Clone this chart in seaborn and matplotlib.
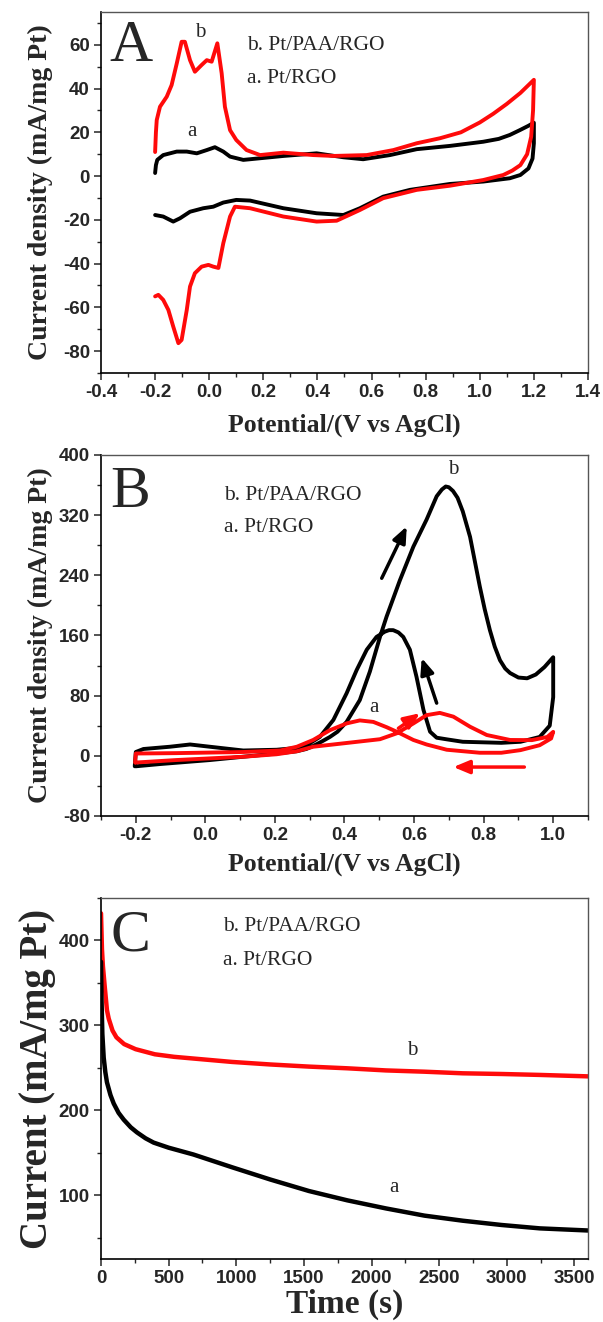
import seaborn as sns
import matplotlib.pyplot as plt
from matplotlib.ticker import MultipleLocator
import pandas as pd

# ---- panel A : CV in H2SO4 ----
a_red_x = [-0.2, -0.197, -0.194, -0.182, -0.157, -0.139, -0.12, -0.102, -0.09, -0.071, -0.053,
           -0.028, -0.009, 0.009, 0.03, 0.046, 0.058, 0.077, 0.1, 0.138, 0.188, 0.274, 0.385,
           0.459, 0.582, 0.681, 0.767, 0.853, 0.93, 1.0, 1.05, 1.1, 1.15, 1.2,
           1.197, 1.19, 1.175, 1.15, 1.12, 1.087, 1.013, 0.89, 0.767, 0.643, 0.557, 0.471, 0.397,
           0.274, 0.151, 0.095, 0.077, 0.052, 0.034, 0.015, -0.003, -0.028, -0.053, -0.071,
           -0.083, -0.102, -0.114, -0.133, -0.151, -0.17, -0.188, -0.2]
a_red_y = [11, 20, 25.6, 31.7, 36.3, 41.6, 51.5, 61.4, 61.4, 53, 47.7,
           50.8, 53, 52.3, 60.7, 47, 31.7, 21, 16.5, 11.9, 9.6, 10.7, 9.6,
           9.2, 9.6, 11.9, 15, 17.3, 20, 24.5, 28.5, 33, 38, 44,
           30, 18, 10, 5, 2.5, 0.5, -1.8, -4.4, -6.3, -10.1, -15.5, -20.4, -20.8,
           -18.5, -14.7, -14, -18.5, -30.7, -42, -41.4, -40.6, -41.4, -44.4, -50.5,
           -61.2, -74.9, -76.4, -68.8, -61.2, -56.6, -54.3, -55]
a_blk_x = [-0.2, -0.197, -0.192, -0.17, -0.12, -0.083, -0.046, -0.009, 0.021, 0.052, 0.077,
           0.126, 0.151, 0.274, 0.397, 0.496, 0.569, 0.668, 0.767, 0.89, 1.013, 1.07, 1.111,
           1.148, 1.18, 1.2,
           1.2, 1.195, 1.18, 1.15, 1.111, 1.013, 0.89, 0.742, 0.643, 0.557, 0.496, 0.397, 0.274,
           0.151, 0.1, 0.052, 0.015, -0.022, -0.071, -0.108, -0.133, -0.17, -0.2]
a_blk_y = [1.4, 5, 7.4, 9.6, 11.2, 11.2, 10.4, 11.9, 13.2, 11.2, 8.9,
           7.4, 7.7, 9.2, 10.4, 8.6, 7.7, 9.6, 12.3, 13.8, 15.7, 17, 18.8,
           21, 23, 24.4,
           15, 8, 3.5, 0.5, -1, -2.5, -3.6, -6.3, -9.4, -14.7, -17.8, -17, -14.7,
           -11.2, -10.9, -12.1, -14, -14.7, -16.3, -19.3, -20.8, -18.5, -17.8]

# ---- panel B : methanol oxidation CV ----
b_blk_x = [-0.2, -0.13, 0.013, 0.109, 0.205, 0.263, 0.29, 0.31, 0.335, 0.358, 0.38, 0.406,
           0.444, 0.473, 0.502, 0.521, 0.559, 0.598, 0.636, 0.665, 0.68, 0.691, 0.70, 0.712,
           0.725, 0.74, 0.761, 0.775, 0.789, 0.803, 0.818, 0.832, 0.847, 0.862, 0.876, 0.9,
           0.925, 0.95, 0.975, 1.0,
           1.0, 0.99, 0.961, 0.906, 0.851, 0.74, 0.696, 0.665, 0.646, 0.627, 0.607, 0.588, 0.569,
           0.555, 0.54, 0.528, 0.516, 0.492, 0.464, 0.435, 0.406, 0.368, 0.329, 0.291, 0.253,
           0.205, 0.109, 0.013, -0.044, -0.102, -0.178, -0.2, -0.203]
b_blk_y = [-14, -11, -5.7, -1.3, 3, 6, 9, 13, 19, 25, 32, 45,
           74, 112, 158, 185, 233, 278, 314, 345, 354, 358, 357, 352,
           343, 325, 291, 258, 225, 195, 167, 145, 127, 116, 110, 104,
           103, 108, 118, 131,
           78, 40, 25, 18.6, 17.2, 18.6, 21.7, 24, 32, 61, 105, 141, 158,
           164, 167, 167, 165, 158, 141, 114, 83, 47.6, 25, 14, 10,
           8, 7, 12, 15, 12, 9, 5, -14]
b_red_x = [-0.2, -0.084, 0.109, 0.205, 0.263, 0.31, 0.406, 0.502, 0.55, 0.598, 0.636, 0.674,
           0.713, 0.761, 0.809, 0.876, 0.939, 0.983, 1.0,
           0.994, 0.961, 0.906, 0.851, 0.789, 0.694, 0.636, 0.598, 0.55, 0.521, 0.483, 0.444,
           0.406, 0.358, 0.31, 0.263, 0.215, 0.109, -0.084, -0.2, -0.202]
b_red_y = [-9, -5.7, -1.3, 2, 6, 12, 17, 22, 29.8, 43, 54, 57,
           52, 38.6, 27.6, 21, 20.8, 25, 31.8,
           23, 14, 7.5, 4, 4, 8, 15, 21, 32, 38, 45, 47,
           43, 34, 21, 12, 7, 5, 3.5, 3, -9]

# ---- panel C : chronoamperometry ----
c_t_b = [0, 7, 14, 28, 44, 57, 85, 114, 171, 256, 398, 541, 683, 968, 1252, 1537, 1821,
         2106, 2391, 2675, 2960, 3244, 3600]
c_cur_b = [432, 390, 370, 345, 318, 308, 294, 286, 278, 272, 266, 263, 261, 257, 254, 251.5,
           249.5, 247, 245.5, 243.6, 242.8, 241.7, 240]
c_t_a = [0, 4, 10, 20, 32, 44, 70, 94, 130, 168, 220, 266, 330, 389, 500, 683, 968, 1252,
         1537, 1821, 2106, 2391, 2675, 2960, 3244, 3600]
c_cur_a = [375, 330, 290, 262, 245, 233, 218, 208, 197, 189, 180, 174, 167, 162, 156, 148,
           133, 118.5, 105, 94, 84.5, 76, 70, 65, 61, 58.5]

legend_b = "b. Pt/PAA/RGO"
legend_a = "a. Pt/RGO"
RED = "#ff0a0a"

sns.set_style("ticks")
plt.rcParams["font.family"] = ["Liberation Sans", "DejaVu Sans"]
plt.rcParams["axes.unicode_minus"] = False
serif = ["Liberation Serif", "DejaVu Serif"]

fig = plt.figure(figsize=(6.03, 13.22), dpi=100)
axA = fig.add_axes([0.1675, 0.7179, 0.8076, 0.273])
axB = fig.add_axes([0.1675, 0.3828, 0.8076, 0.2731])
axC = fig.add_axes([0.1675, 0.0477, 0.8076, 0.273])


def style(ax):
    for s in ["left", "bottom"]:
        ax.spines[s].set_color("black")
        ax.spines[s].set_linewidth(1.2)
    for s in ["top", "right"]:
        ax.spines[s].set_visible(True)
        ax.spines[s].set_color("#555555")
        ax.spines[s].set_linewidth(1.0)
    ax.tick_params(which="major", direction="out", length=5, width=1.1, pad=3,
                   labelsize=13.5, top=False, right=False)
    ax.tick_params(which="minor", direction="out", length=3, width=1.0, top=False, right=False)
    for lab in ax.get_xticklabels() + ax.get_yticklabels():
        lab.set_fontweight("bold")


# A
dfA_r = pd.DataFrame({"x": a_red_x, "y": a_red_y})
dfA_k = pd.DataFrame({"x": a_blk_x, "y": a_blk_y})
sns.lineplot(data=dfA_k, x="x", y="y", sort=False, estimator=None, color="black", lw=2.8, ax=axA)
sns.lineplot(data=dfA_r, x="x", y="y", sort=False, estimator=None, color=RED, lw=2.8, ax=axA)
axA.set_xlim(-0.4, 1.4)
axA.set_ylim(-90, 75)
axA.set_xticks([-0.4, -0.2, 0.0, 0.2, 0.4, 0.6, 0.8, 1.0, 1.2, 1.4])
axA.set_yticks([-80, -60, -40, -20, 0, 20, 40, 60])
axA.xaxis.set_minor_locator(MultipleLocator(0.1))
axA.yaxis.set_minor_locator(MultipleLocator(10))
axA.set_xticklabels(["-0.4", "-0.2", "0.0", "0.2", "0.4", "0.6", "0.8", "1.0", "1.2", "1.4"])
axA.set_xlabel("Potential/(V vs AgCl)", family=serif, fontweight="bold", fontsize=18.5, labelpad=9)
axA.set_ylabel("Current density (mA/mg Pt)", family=serif, fontweight="bold", fontsize=20, labelpad=7)
axA.text(0.017, 0.865, "A", transform=axA.transAxes, family=serif, fontsize=43, va="baseline")
axA.text(-0.032, 65.6, "b", family=serif, fontsize=15, ha="center", va="center")
axA.text(-0.065, 20.6, "a", family=serif, fontsize=15, ha="center", va="center")
axA.text(0.141, 59.5, legend_b, family=serif, fontsize=15.5, va="center")
axA.text(0.141, 44.7, legend_a, family=serif, fontsize=15.5, va="center")
style(axA)

# B
dfB_k = pd.DataFrame({"x": b_blk_x, "y": b_blk_y})
dfB_r = pd.DataFrame({"x": b_red_x, "y": b_red_y})
sns.lineplot(data=dfB_k, x="x", y="y", sort=False, estimator=None, color="black", lw=2.8, ax=axB)
sns.lineplot(data=dfB_r, x="x", y="y", sort=False, estimator=None, color=RED, lw=2.8, ax=axB)
axB.set_xlim(-0.3, 1.1)
axB.set_ylim(-80, 400)
axB.set_xticks([-0.2, 0.0, 0.2, 0.4, 0.6, 0.8, 1.0])
axB.set_xticklabels(["-0.2", "0.0", "0.2", "0.4", "0.6", "0.8", "1.0"])
axB.set_yticks([-80, 0, 80, 160, 240, 320, 400])
axB.xaxis.set_minor_locator(MultipleLocator(0.1))
axB.yaxis.set_minor_locator(MultipleLocator(40))
axB.set_xlabel("Potential/(V vs AgCl)", family=serif, fontweight="bold", fontsize=18.5, labelpad=6)
axB.set_ylabel("Current density (mA/mg Pt)", family=serif, fontweight="bold", fontsize=20, labelpad=4)
axB.text(0.02, 0.856, "B", transform=axB.transAxes, family=serif, fontsize=43, va="baseline")
axB.text(0.713, 381, "b", family=serif, fontsize=15, ha="center", va="center")
axB.text(0.484, 64, "a", family=serif, fontsize=15, ha="center", va="center")
axB.text(0.054, 345.6, legend_b, family=serif, fontsize=15.5, va="center")
axB.text(0.054, 303.6, legend_a, family=serif, fontsize=15.5, va="center")
arrows = [((0.507, 236), (0.579, 305), "black"),
          ((0.665, 70), (0.622, 130), "black"),
          ((0.555, 36.5), (0.617, 56.6), RED),
          ((0.917, -15), (0.713, -15), RED)]
for tail, head, col in arrows:
    axB.annotate("", xy=head, xytext=tail,
                 arrowprops=dict(arrowstyle="-|>,head_length=0.6,head_width=0.25", color=col,
                                 lw=2.5, mutation_scale=16, shrinkA=0, shrinkB=0))
style(axB)

# C
dfC = pd.concat([pd.DataFrame({"t": c_t_b, "i": c_cur_b, "s": "b"}),
                 pd.DataFrame({"t": c_t_a, "i": c_cur_a, "s": "a"})])
sns.lineplot(data=dfC, x="t", y="i", hue="s", palette={"b": RED, "a": "black"},
             estimator=None, lw=3.2, legend=False, ax=axC)
axC.set_xlim(0, 3600)
axC.set_ylim(25, 450)
axC.set_xticks([0, 500, 1000, 1500, 2000, 2500, 3000, 3500])
axC.set_yticks([100, 200, 300, 400])
axC.xaxis.set_minor_locator(MultipleLocator(250))
axC.yaxis.set_minor_locator(MultipleLocator(50))
axC.set_xlabel("Time (s)", family=serif, fontweight="bold", fontsize=24, labelpad=1)
axC.set_ylabel("Current (mA/mg Pt)", family=serif, fontweight="bold", fontsize=28, labelpad=2)
axC.text(0.019, 0.856, "C", transform=axC.transAxes, family=serif, fontsize=43, va="baseline")
axC.text(2302, 271, "b", family=serif, fontsize=15, ha="center", va="center")
axC.text(2167, 108.6, "a", family=serif, fontsize=15, ha="center", va="center")
axC.text(904, 416, legend_b, family=serif, fontsize=15.5, va="center")
axC.text(904, 377, legend_a, family=serif, fontsize=15.5, va="center")
style(axC)

fig.savefig("out.png", dpi=100)
